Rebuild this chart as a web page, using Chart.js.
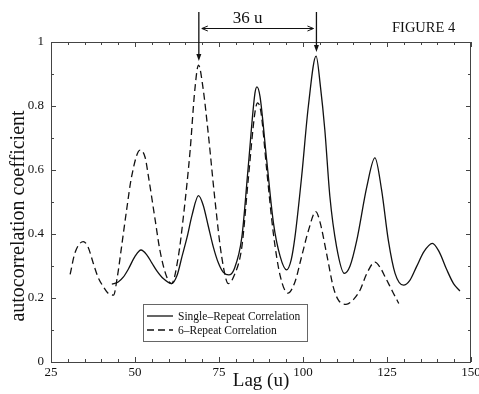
<!DOCTYPE html>
<html><head><meta charset="utf-8">
<script src="https://cdn.jsdelivr.net/npm/chart.js@4/dist/chart.umd.min.js"></script>
<style>html,body{margin:0;padding:0;background:#fff;}</style>
</head><body>
<canvas id="c" width="479" height="394"></canvas>
<script>
// ---- data ----
const singleLag = [43.1,45,46.5,48,50,51.8,53.5,55,56.5,58.5,60.9,62.5,64,65.5,67,68.9,70.3,71.8,73.3,74.8,76.3,77.9,79.5,81.8,83.7,85.7,86.3,87.2,89.2,91.2,93.2,95.1,96.5,97.6,99.6,101.6,103.9,105.2,106.5,108,110,112.3,114,116,119,121.4,123.4,125.4,127.4,129.9,131.8,133.8,136,138.5,140.5,142.8,144.8,146.7];
const singleVal = [0.243,0.25,0.265,0.29,0.33,0.35,0.335,0.31,0.285,0.26,0.245,0.27,0.33,0.39,0.46,0.52,0.49,0.425,0.36,0.31,0.28,0.272,0.29,0.39,0.61,0.84,0.86,0.83,0.63,0.435,0.33,0.288,0.32,0.39,0.58,0.80,0.956,0.86,0.725,0.517,0.36,0.277,0.30,0.38,0.548,0.638,0.537,0.38,0.277,0.24,0.255,0.298,0.345,0.371,0.345,0.288,0.245,0.222];
const sixLag = [30.7,32.1,34.6,36,37.6,39,40.6,42,43.6,44.8,46,47.5,49,51.5,53,54,56,57.4,59.4,60.9,62.9,64.4,66.4,67.8,68.9,70.2,71.8,73.8,75.8,77.8,79.5,81.8,83.7,85.7,86.5,87.5,89.2,91.2,93.2,95.5,97.6,99.6,101.6,103.8,105,107,109,110.5,112.8,115,117,119,121.4,123,124.4,126.9,128.5];
const sixVal = [0.274,0.34,0.376,0.36,0.308,0.265,0.235,0.215,0.209,0.27,0.36,0.475,0.58,0.662,0.64,0.58,0.444,0.35,0.267,0.245,0.33,0.454,0.66,0.85,0.928,0.86,0.714,0.506,0.329,0.245,0.27,0.36,0.57,0.78,0.81,0.78,0.6,0.4,0.27,0.215,0.25,0.33,0.41,0.47,0.44,0.34,0.235,0.194,0.18,0.195,0.225,0.277,0.312,0.295,0.267,0.215,0.183];
const xTickLabels = ['25','50','75','100','125','150'];
const yTickLabels = ['0','0.2','0.4','0.6','0.8','1'];
const seriesNames = ['Single\u2013Repeat Correlation','6\u2013Repeat Correlation'];
const xTitle = 'Lag (u)';
const yTitle = 'autocorrelation coefficient';
const figureLabel = 'FIGURE 4';
const spacingLabel = '36 u';
const arrowLags = [69, 104];
const arrowPeaks = [0.928, 0.956];

const INK = '#111';
const SERIF = '"Liberation Serif", "Times New Roman", serif';
const DASH = [7,4];

function pts(xs, ys){ return xs.map((x,i)=>({x:x, y:ys[i]})); }

const deco = {
  id: 'deco',
  afterDraw(chart){
    const ctx = chart.ctx, a = chart.chartArea;
    const xs = chart.scales.x, ys = chart.scales.y;
    ctx.save();
    // frame
    ctx.strokeStyle = '#444'; ctx.lineWidth = 1;
    ctx.strokeRect(Math.round(a.left)+0.5, Math.round(a.top)+0.5, Math.round(a.right-a.left)-1, Math.round(a.bottom-a.top));
    // inward ticks
    ctx.beginPath();
    for (let v = 25; v <= 150; v += 5){
      const px = Math.round(xs.getPixelForValue(v))+0.5;
      const len = (v % 25 === 0) ? 5 : 3;
      ctx.moveTo(px, a.bottom); ctx.lineTo(px, a.bottom-len);
      ctx.moveTo(px, a.top); ctx.lineTo(px, a.top+len);
    }
    for (let k = 0; k <= 10; k++){
      const py = Math.round(ys.getPixelForValue(k/10))+0.5;
      const len = (k % 2 === 0) ? 5 : 3;
      ctx.moveTo(a.left, py); ctx.lineTo(a.left+len, py);
      ctx.moveTo(a.right, py); ctx.lineTo(a.right-len, py);
    }
    ctx.stroke();

    // y title
    ctx.fillStyle = INK;
    ctx.font = '20px ' + SERIF;
    ctx.textAlign = 'center'; ctx.textBaseline = 'middle';
    ctx.save(); ctx.translate(19, 216); ctx.rotate(-Math.PI/2);
    ctx.fillText(yTitle, 0, 0); ctx.restore();

    // figure label
    ctx.font = '14.5px ' + SERIF;
    ctx.textAlign = 'left'; ctx.textBaseline = 'alphabetic';
    ctx.fillText(figureLabel, 392, 32);

    // peak arrows
    ctx.strokeStyle = INK; ctx.lineWidth = 1.3;
    const ax = arrowLags.map(v => xs.getPixelForValue(v));
    arrowPeaks.forEach((p, i) => {
      const x = ax[i];
      const tip = ys.getPixelForValue(p) - 4;
      ctx.beginPath(); ctx.moveTo(x, 12); ctx.lineTo(x, tip-5); ctx.stroke();
      ctx.beginPath(); ctx.moveTo(x-2.5, tip-7); ctx.lineTo(x+2.5, tip-7); ctx.lineTo(x, tip); ctx.closePath(); ctx.fill();
    });
    // spacing double arrow
    const hy = 28.5, x1 = ax[0]+3, x2 = ax[1]-3;
    ctx.lineWidth = 1;
    ctx.beginPath();
    ctx.moveTo(x1, hy); ctx.lineTo(x2, hy);
    ctx.moveTo(x1+6, hy-2.5); ctx.lineTo(x1, hy); ctx.lineTo(x1+6, hy+2.5);
    ctx.moveTo(x2-6, hy-2.5); ctx.lineTo(x2, hy); ctx.lineTo(x2-6, hy+2.5);
    ctx.stroke();
    ctx.font = '17px ' + SERIF; ctx.textAlign = 'center';
    ctx.fillText(spacingLabel, (ax[0]+ax[1])/2 - 10, 23);

    // legend
    const lx = 143, ly = 304, lw = 164, lh = 37;
    ctx.strokeStyle = '#666'; ctx.lineWidth = 1;
    ctx.strokeRect(lx+0.5, ly+0.5, lw, lh);
    ctx.font = '11.5px ' + SERIF; ctx.textAlign = 'left'; ctx.textBaseline = 'middle';
    chart.data.datasets.forEach((ds, i) => {
      const y = 316 + i*14;
      ctx.strokeStyle = ds.borderColor; ctx.lineWidth = ds.borderWidth;
      ctx.setLineDash(ds.borderDash || []);
      ctx.beginPath(); ctx.moveTo(147, y); ctx.lineTo(173, y); ctx.stroke();
      ctx.setLineDash([]);
      ctx.fillStyle = INK;
      ctx.fillText(ds.label, 178, y+0.5);
    });
    ctx.restore();
  }
};

new Chart(document.getElementById('c'), {
  type: 'line',
  data: {
    datasets: [
      { label: seriesNames[0], data: pts(singleLag, singleVal), borderColor: INK, borderWidth: 1.3, pointRadius: 0, fill: false, cubicInterpolationMode: 'monotone' },
      { label: seriesNames[1], data: pts(sixLag, sixVal), borderColor: INK, borderWidth: 1.3, borderDash: DASH, pointRadius: 0, fill: false, cubicInterpolationMode: 'monotone' }
    ]
  },
  options: {
    responsive: false,
    animation: false,
    devicePixelRatio: 1,
    layout: { padding: { left: 0, right: 8, top: 42, bottom: 0 } },
    plugins: { legend: { display: false }, tooltip: { enabled: false }, title: { display: false } },
    scales: {
      x: {
        type: 'linear', min: 25, max: 150,
        grid: { display: false, drawTicks: false },
        border: { display: false },
        ticks: { stepSize: 25, padding: 3, color: INK, font: { family: SERIF, size: 13 }, maxRotation: 0,
                 callback: (v, i) => xTickLabels[i] },
        title: { display: true, text: xTitle, color: INK, font: { family: SERIF, size: 19 }, padding: { top: 0, bottom: 2 } },
        afterFit: s => { s.height = 32; s.paddingLeft = 0; s.paddingRight = 0; }
      },
      y: {
        min: 0, max: 1,
        grid: { display: false, drawTicks: false },
        border: { display: false },
        ticks: { stepSize: 0.2, padding: 7, color: INK, font: { family: SERIF, size: 13 },
                 callback: (v, i) => yTickLabels[i] },
        afterFit: s => { s.width = 51; s.paddingTop = 0; s.paddingBottom = 0; }
      }
    }
  },
  plugins: [deco]
});
</script>
</body></html>
